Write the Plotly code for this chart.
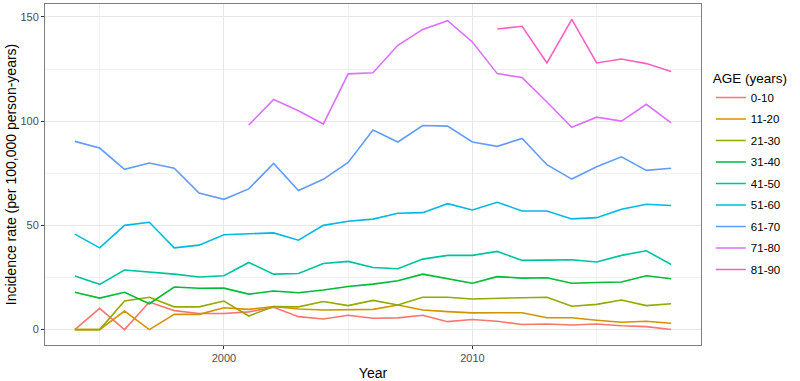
import plotly.graph_objects as go

years = list(range(1994, 2019))

age_groups = ["0-10", "11-20", "21-30", "31-40", "41-50", "51-60", "61-70", "71-80", "81-90"]
colors = ["#F8766D", "#D39200", "#93AA00", "#00BA38", "#00C19F", "#00B9E3", "#619CFF", "#DB72FB", "#FF61C3"]

r_0_10 = [0, 10.2, 0, 13.2, 9.1, 7.7, 7.7, 8.5, 10.7, 6.2, 5.1, 6.9, 5.4, 5.6, 6.9, 3.8, 4.8, 4.0, 2.4, 2.7, 2.2, 2.7, 1.8, 1.4, 0]
r_11_20 = [0, 0, 8.9, 0, 7.3, 7.3, 10.5, 9.7, 11.1, 9.9, 9.4, 9.6, 9.7, 11.8, 9.4, 8.6, 8.0, 8.1, 8.1, 5.7, 5.7, 4.5, 3.5, 4.0, 3.0]
r_21_30 = [0, 0, 13.7, 15.5, 10.9, 10.9, 13.7, 6.5, 11.1, 10.9, 13.5, 11.5, 14.0, 11.8, 15.5, 15.5, 14.7, 15.1, 15.3, 15.5, 11.2, 12.1, 14.2, 11.5, 12.4]
r_31_40 = [17.9, 15.1, 17.9, 12.4, 20.4, 19.8, 19.9, 17.0, 18.5, 17.7, 19.0, 20.7, 21.8, 23.4, 26.6, 24.5, 22.2, 25.4, 24.7, 24.9, 22.2, 22.6, 22.8, 25.8, 24.4]
r_41_50 = [25.7, 21.7, 28.6, 27.6, 26.6, 25.2, 25.8, 32.2, 26.6, 26.9, 31.7, 32.7, 29.8, 29.2, 33.8, 35.6, 35.6, 37.5, 33.2, 33.3, 33.5, 32.4, 35.6, 37.8, 31.2]
r_51_60 = [45.8, 39.2, 50.0, 51.5, 39.2, 40.5, 45.5, 46.1, 46.4, 42.9, 50.0, 52.0, 53.0, 55.8, 56.1, 60.4, 57.4, 61.1, 56.9, 56.9, 53.1, 53.7, 57.7, 60.1, 59.5]
r_61_70 = [90.3, 87.1, 76.9, 79.9, 77.4, 65.5, 62.5, 67.5, 79.7, 66.7, 72.1, 80.2, 95.7, 90.0, 97.9, 97.6, 90.0, 87.9, 91.7, 79.1, 72.2, 78.1, 82.9, 76.4, 77.4]
r_71_80 = [None, None, None, None, None, None, None, 98.1, 110.4, 105.0, 98.6, 122.7, 123.2, 136.4, 144.0, 148.2, 138.0, 122.8, 120.9, 109.2, 97.1, 101.9, 100.0, 108.1, 99.2]
r_81_90 = [None] * 17 + [144.2, 145.5, 127.9, 148.8, 127.9, 129.8, 127.6, 123.8]

series = [r_0_10, r_11_20, r_21_30, r_31_40, r_41_50, r_51_60, r_61_70, r_71_80, r_81_90]

fig = go.Figure()
for name, vals, col in zip(age_groups, series, colors):
    fig.add_trace(go.Scatter(
        x=years, y=vals, mode="lines", name=name,
        line=dict(color=col, width=1.6),
        legendgroup=name,
    ))

font_family = "Liberation Sans, Arial, sans-serif"
axis_common = dict(
    showgrid=True, gridcolor="#E6E6E6", gridwidth=1,
    showline=True, linecolor="#7F7F7F", linewidth=1, mirror=True,
    ticks="outside", ticklen=3, tickcolor="#333333", tickwidth=1,
    tickfont=dict(family=font_family, size=11, color="#4D4D4D"),
    zeroline=False, automargin=False,
)

fig.update_layout(
    width=800, height=381,
    margin=dict(l=45, r=99, t=4, b=36),
    paper_bgcolor="white", plot_bgcolor="white",
    font=dict(family=font_family),
    xaxis=dict(
        range=[1992.8, 2019.2], tick0=2000, dtick=10,
        minor=dict(dtick=5, tick0=1995, showgrid=True, gridcolor="#F2F2F2", gridwidth=0.6, ticks=""),
        title=dict(text="Year", font=dict(family=font_family, size=14, color="black"), standoff=4),
        **axis_common,
    ),
    yaxis=dict(
        range=[-7.4, 156.2], tick0=0, dtick=50,
        minor=dict(dtick=25, showgrid=True, gridcolor="#F2F2F2", gridwidth=0.6, ticks=""),
        title=dict(text="Incidence rate (per 100,000 person-years)", font=dict(family=font_family, size=14, color="black"), standoff=0),
        **axis_common,
    ),
    legend=dict(
        title=dict(text="AGE (years)", font=dict(family=font_family, size=13.5, color="black")),
        font=dict(family=font_family, size=11.5, color="black"),
        x=1.015, xanchor="left", y=0.82, yanchor="top",
        tracegroupgap=2.5, itemwidth=30,
        bgcolor="rgba(0,0,0,0)",
    ),
    showlegend=True,
)

fig.write_html(
    "out.html",
    config={"displayModeBar": False},
    post_script="document.body.style.margin='0';document.body.style.padding='0';",
)
